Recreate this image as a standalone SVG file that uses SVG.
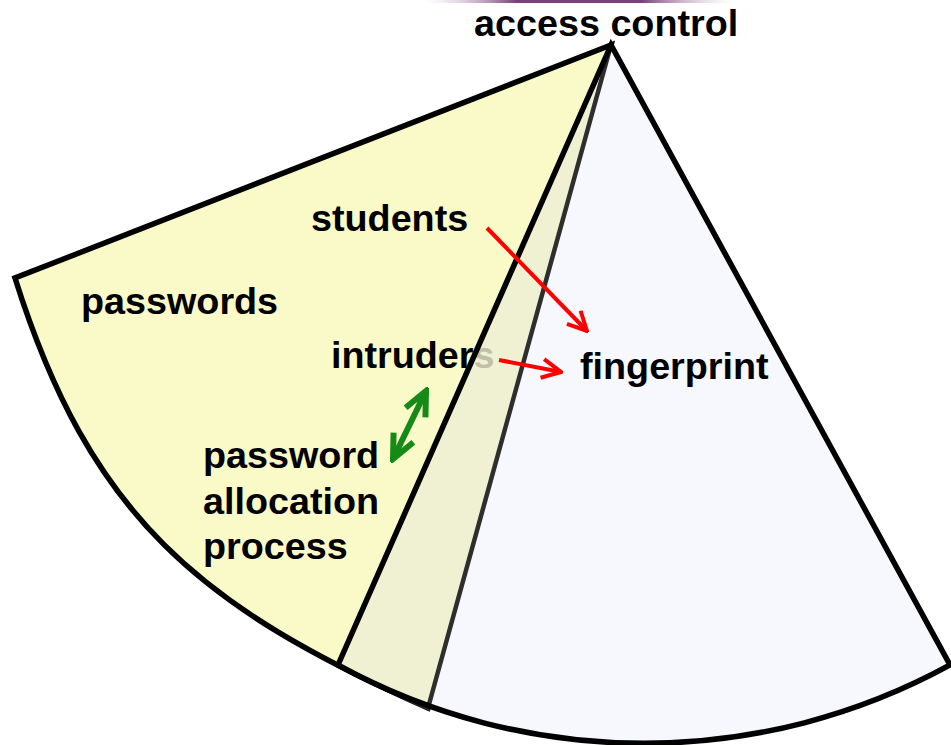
<svg xmlns="http://www.w3.org/2000/svg" width="951" height="745" viewBox="0 0 951 745">
  <style>
    .lbl { font-family: "Liberation Sans", Arial, sans-serif; font-weight: bold; font-size: 37px; fill: #000; }
    .edge { stroke: #000; stroke-width: 5.5; stroke-linejoin: miter; }
    .red { fill: none; stroke: #ff0000; stroke-width: 4; }
    .green { fill: none; stroke: #168a16; stroke-width: 6; }
  </style>
  <defs>
    <linearGradient id="topbar" x1="0" y1="0" x2="1" y2="0">
      <stop offset="0" stop-color="#d8c8d8" stop-opacity="0"/>
      <stop offset="0.3" stop-color="#7b3f7a"/>
      <stop offset="0.7" stop-color="#7b3f7a"/>
      <stop offset="1" stop-color="#d8c8d8" stop-opacity="0"/>
    </linearGradient>
    <marker id="headRed" viewBox="-22 -12 24 24" refX="0" refY="0" markerWidth="24" markerHeight="24" markerUnits="userSpaceOnUse" orient="auto">
      <path d="M-19,-9.5 L0,0 L-19,9.5" fill="none" stroke="#ff0000" stroke-width="4"/>
    </marker>
    <marker id="headGreen" viewBox="-28 -15 32 30" refX="0" refY="0" markerWidth="32" markerHeight="30" markerUnits="userSpaceOnUse" orient="auto-start-reverse">
      <path d="M-24,-11 L0,0 L-24,11" fill="none" stroke="#168a16" stroke-width="6"/>
    </marker>
  </defs>

  <rect x="0" y="0" width="951" height="745" fill="#ffffff"/>
  <!-- thin title rule along the top edge -->
  <rect x="423" y="0" width="312" height="3" fill="url(#topbar)"/>

  <!-- passwords sector -->
  <g id="sector-passwords">
    <path d="M611,45 L15,278 C90,516 199,607 428,708 Z" class="edge" style="fill:#fafac8"/>
  </g>

  <!-- fingerprint sector -->
  <g id="sector-fingerprint">
    <path d="M611,45 L338,665 A637,637 0 0 0 950,665 Z" style="fill:#f6f8fe"/>
  </g>

  <!-- region shared by both sectors -->
  <g id="overlap">
    <path d="M611,45 L338.6,665.8 C366.2,680 395.9,693.9 428,708 Z" style="fill:#f0f0d2"/>
  </g>

  <g id="labels">
    <g id="node-access-control"><text class="lbl" transform="translate(474,36) scale(1.02,1)">access control</text></g>
    <g id="node-students"><text class="lbl" transform="translate(311,231) scale(1.02,1)">students</text></g>
    <g id="node-passwords"><text class="lbl" transform="translate(81,314) scale(1.02,1)">passwords</text></g>
    <g id="node-intruders"><text class="lbl" transform="translate(331,368) scale(1.02,1)">intruders</text></g>
    <g id="node-fingerprint"><text class="lbl" transform="translate(580,379) scale(1.02,1)">fingerprint</text></g>
    <g id="node-password-allocation">
      <text class="lbl" transform="translate(203,468) scale(1.02,1)">password</text>
      <text class="lbl" transform="translate(203,514) scale(1.02,1)">allocation</text>
      <text class="lbl" transform="translate(203,559) scale(1.02,1)">process</text>
    </g>
  </g>

  <!-- translucent veil over the shared region dims what lies beneath it -->
  <path d="M611,45 L338.6,665.8 C366.2,680 395.9,693.9 428,708 Z" style="fill:#f0f0d2;fill-opacity:0.8"/>

  <!-- hidden edge of the passwords sector seen through the fingerprint sector -->
  <path d="M338.6,665.8 C366.2,680 395.9,693.9 428,708 L611,45" fill="none" stroke="#2e2e2e" stroke-width="4.5" stroke-linejoin="miter"/>

  <!-- fingerprint sector outline -->
  <path d="M611,45 L338,665 A637,637 0 0 0 950,665 Z" class="edge" style="fill:none"/>

  <g id="connectors">
    <line x1="487" y1="228" x2="587" y2="331" class="red" marker-end="url(#headRed)"/>
    <line x1="499" y1="360" x2="561" y2="372" class="red" marker-end="url(#headRed)"/>
    <line x1="426" y1="391" x2="393" y2="459" class="green" marker-start="url(#headGreen)" marker-end="url(#headGreen)"/>
  </g>
</svg>
